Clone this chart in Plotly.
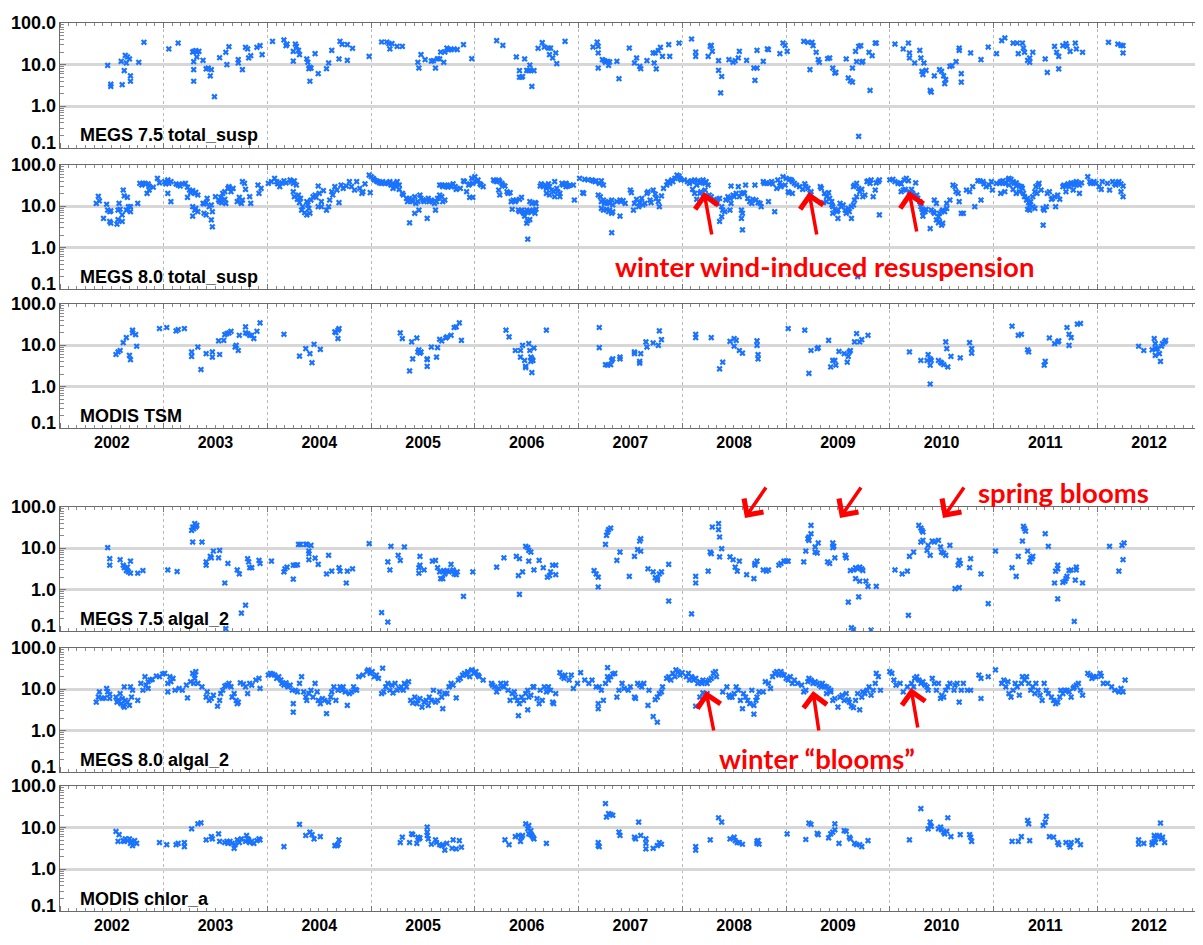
import math
import datetime as dt
import plotly.graph_objects as go

# ---------------- data: (decimal year, value) ----------------
megs75_total_susp = [
    (2002.46, 9.6), (2002.49, 3.4), (2002.49, 3.0), (2002.59, 12.0), (2002.60, 3.3), (2002.62, 7.2), (2002.63, 16.7),
    (2002.64, 11.0), (2002.65, 15.3), (2002.67, 13.7), (2002.68, 5.4), (2002.68, 4.0), (2002.76, 11.4), (2002.81, 34.4),
    (2003.05, 23.8), (2003.14, 33.1), (2003.28, 20.1), (2003.29, 20.9), (2003.31, 21.7), (2003.32, 20.1), (2003.34, 20.9),
    (2003.29, 11.8), (2003.29, 7.6), (2003.29, 4.0), (2003.32, 15.3), (2003.38, 12.7), (2003.41, 7.9), (2003.43, 8.3),
    (2003.46, 7.6), (2003.45, 5.4), (2003.49, 1.7), (2003.54, 14.7), (2003.60, 19.8), (2003.61, 10.0), (2003.63, 27.0),
    (2003.72, 13.2), (2003.72, 11.0), (2003.76, 7.6), (2003.79, 26.1), (2003.81, 23.8), (2003.82, 14.5), (2003.84, 16.4),
    (2003.90, 26.1), (2003.93, 28.6), (2003.95, 17.4),
    (2004.05, 36.3), (2004.16, 39.1), (2004.18, 28.6), (2004.19, 31.3), (2004.25, 20.9), (2004.27, 31.3), (2004.28, 27.5),
    (2004.30, 22.1), (2004.25, 12.2), (2004.31, 17.4), (2004.38, 13.7), (2004.39, 11.4), (2004.40, 8.0), (2004.41, 8.6),
    (2004.42, 8.3), (2004.41, 4.0), (2004.46, 18.4), (2004.49, 6.1), (2004.57, 8.0), (2004.59, 11.0), (2004.62, 22.1),
    (2004.69, 13.7), (2004.70, 36.3), (2004.72, 30.8), (2004.77, 12.7), (2004.77, 30.2), (2004.82, 24.7), (2004.98, 15.8),
    (2005.10, 35.0), (2005.15, 35.0), (2005.17, 31.9), (2005.18, 23.8), (2005.20, 31.9), (2005.25, 27.5), (2005.30, 27.5),
    (2005.45, 11.4), (2005.46, 8.3), (2005.48, 17.4), (2005.52, 13.2), (2005.58, 12.2), (2005.60, 12.5), (2005.62, 8.3),
    (2005.64, 13.9), (2005.66, 13.7), (2005.67, 20.1), (2005.70, 11.4), (2005.71, 20.1), (2005.73, 25.1), (2005.75, 22.9),
    (2005.77, 22.9), (2005.80, 23.8), (2005.83, 22.9), (2005.89, 30.2), (2005.97, 13.9),
    (2006.21, 37.7), (2006.27, 29.1), (2006.40, 15.3), (2006.43, 7.2), (2006.43, 5.0), (2006.45, 5.0), (2006.46, 5.2),
    (2006.48, 13.7), (2006.50, 7.3), (2006.52, 7.2), (2006.53, 9.8), (2006.54, 7.3), (2006.55, 3.0), (2006.57, 7.2),
    (2006.61, 24.7), (2006.65, 33.7), (2006.67, 26.5), (2006.71, 25.1), (2006.72, 17.4), (2006.73, 25.1), (2006.75, 14.5),
    (2006.78, 19.1), (2006.79, 10.6), (2006.87, 36.3),
    (2007.14, 26.5), (2007.18, 35.0), (2007.19, 27.5), (2007.19, 19.1), (2007.19, 8.3), (2007.23, 13.2), (2007.25, 12.5),
    (2007.26, 11.4), (2007.28, 12.0), (2007.30, 11.6), (2007.29, 9.6), (2007.37, 12.0), (2007.39, 4.6), (2007.49, 25.1),
    (2007.54, 11.0), (2007.56, 14.5), (2007.59, 9.1), (2007.60, 8.0), (2007.66, 12.5), (2007.72, 19.1), (2007.73, 11.0),
    (2007.74, 19.1), (2007.75, 7.9), (2007.77, 21.7), (2007.79, 26.1), (2007.81, 15.8), (2007.87, 30.2), (2007.88, 15.8),
    (2007.97, 33.1),
    (2008.09, 41.3), (2008.13, 20.1), (2008.13, 15.8), (2008.25, 15.8), (2008.27, 27.5), (2008.28, 29.1), (2008.29, 20.9),
    (2008.35, 7.3), (2008.35, 12.5), (2008.37, 2.1), (2008.38, 5.2), (2008.45, 13.2), (2008.49, 11.4), (2008.51, 12.5),
    (2008.54, 14.5), (2008.55, 20.9), (2008.62, 12.7), (2008.69, 8.3), (2008.70, 4.2), (2008.72, 22.1), (2008.72, 8.3),
    (2008.78, 12.0), (2008.82, 23.8), (2008.83, 22.9), (2008.94, 18.4), (2008.97, 33.1), (2008.99, 29.1), (2009.01, 20.9),
    (2009.17, 36.3), (2009.21, 34.4), (2009.25, 34.4), (2009.26, 28.6), (2009.23, 7.6), (2009.29, 19.8), (2009.31, 13.2),
    (2009.32, 11.4), (2009.40, 13.9), (2009.42, 14.5), (2009.45, 8.3), (2009.47, 6.3), (2009.48, 6.5), (2009.58, 13.7),
    (2009.60, 4.8), (2009.62, 4.1), (2009.64, 3.8), (2009.64, 8.3), (2009.67, 20.9), (2009.68, 11.8), (2009.70, 27.5),
    (2009.72, 28.6), (2009.73, 11.4), (2009.74, 12.0), (2009.70, 0.19), (2009.80, 19.8), (2009.83, 16.4), (2009.81, 2.4),
    (2009.86, 33.1), (2009.87, 33.1),
    (2010.05, 31.3), (2010.13, 23.8), (2010.18, 33.1), (2010.19, 19.1), (2010.19, 14.5), (2010.24, 11.0), (2010.29, 22.1),
    (2010.30, 14.5), (2010.33, 11.0), (2010.31, 6.9), (2010.32, 5.8), (2010.35, 7.3), (2010.39, 2.4), (2010.40, 2.2),
    (2010.43, 5.4), (2010.48, 7.6), (2010.50, 6.9), (2010.52, 5.4), (2010.53, 3.5), (2010.54, 4.4), (2010.58, 9.1),
    (2010.60, 9.5), (2010.64, 11.8), (2010.67, 25.1), (2010.67, 22.1), (2010.69, 6.1), (2010.69, 3.8), (2010.78, 19.1),
    (2010.88, 13.2), (2010.95, 26.5),
    (2011.03, 18.4), (2011.08, 37.7), (2011.11, 43.7), (2011.19, 33.1), (2011.23, 33.1), (2011.28, 33.1), (2011.24, 18.4),
    (2011.29, 25.1), (2011.30, 19.8), (2011.33, 12.7), (2011.35, 11.4), (2011.35, 14.5), (2011.38, 19.8), (2011.50, 13.7),
    (2011.52, 6.5), (2011.59, 27.5), (2011.61, 19.8), (2011.63, 15.8), (2011.63, 7.9), (2011.67, 28.6), (2011.70, 31.9),
    (2011.71, 27.5), (2011.74, 20.9), (2011.79, 33.1), (2011.80, 23.8), (2011.86, 19.8),
    (2012.11, 34.4), (2012.20, 31.3), (2012.23, 29.1), (2012.25, 28.6), (2012.25, 19.1),
]

megs80_total_susp = [
    (2002.35, 11.8), (2002.37, 17.5), (2002.38, 13.5), (2002.42, 5.1), (2002.45, 11.2), (2002.46, 8.1), (2002.48, 7.4),
    (2002.48, 4.3), (2002.49, 3.9), (2002.49, 7.8), (2002.55, 3.7), (2002.56, 4.8), (2002.56, 8.1), (2002.57, 11.8),
    (2002.58, 8.5), (2002.60, 4.3), (2002.60, 6.2), (2002.61, 24.8), (2002.62, 17.8), (2002.65, 16.5), (2002.64, 8.1),
    (2002.66, 9.8), (2002.68, 9.8), (2002.68, 7.4), (2002.75, 11.8), (2002.77, 36.0), (2002.79, 32.8), (2002.80, 36.0),
    (2002.82, 36.0), (2002.85, 35.0), (2002.86, 31.0), (2002.84, 20.6), (2002.86, 24.8), (2002.90, 29.0), (2002.94, 47.6),
    (2002.96, 37.0),
    (2003.01, 39.5), (2003.02, 35.0), (2003.04, 43.4), (2003.05, 36.0), (2003.07, 39.5), (2003.04, 20.6), (2003.07, 13.0),
    (2003.12, 35.0), (2003.14, 32.8), (2003.16, 31.0), (2003.18, 35.0), (2003.21, 36.0), (2003.23, 29.0), (2003.23, 16.5),
    (2003.25, 24.8), (2003.26, 21.4), (2003.28, 24.0), (2003.30, 20.6), (2003.31, 21.8), (2003.33, 18.8), (2003.28, 9.8),
    (2003.30, 8.1), (2003.31, 8.9), (2003.33, 7.4), (2003.28, 5.8), (2003.38, 11.8), (2003.39, 11.4), (2003.41, 12.3),
    (2003.42, 15.6), (2003.39, 6.8), (2003.41, 6.2), (2003.44, 9.8), (2003.46, 10.8), (2003.47, 7.4), (2003.46, 4.7),
    (2003.47, 3.2), (2003.50, 17.1), (2003.53, 14.2), (2003.55, 16.5), (2003.57, 20.6), (2003.59, 22.6), (2003.62, 27.2),
    (2003.63, 29.9), (2003.65, 22.6), (2003.67, 27.2), (2003.54, 13.0), (2003.56, 12.3), (2003.59, 14.8), (2003.60, 11.8),
    (2003.71, 13.0), (2003.73, 16.5), (2003.75, 11.8), (2003.76, 14.2), (2003.76, 39.5), (2003.78, 36.0), (2003.79, 25.8),
    (2003.83, 17.1), (2003.84, 11.8), (2003.91, 32.8), (2003.92, 20.6), (2003.94, 27.2),
    (2004.01, 36.0), (2004.04, 39.5), (2004.07, 47.6), (2004.09, 39.5), (2004.10, 35.0), (2004.12, 29.9), (2004.14, 37.0),
    (2004.16, 41.5), (2004.18, 37.0), (2004.22, 43.4), (2004.23, 39.5), (2004.25, 36.0), (2004.26, 41.5), (2004.28, 32.8),
    (2004.25, 22.6), (2004.26, 17.1), (2004.29, 14.8), (2004.30, 18.8), (2004.31, 12.3), (2004.32, 15.6), (2004.33, 8.1),
    (2004.34, 9.8), (2004.36, 7.0), (2004.38, 6.2), (2004.40, 8.9), (2004.41, 6.8), (2004.38, 13.0), (2004.39, 10.8),
    (2004.42, 14.2), (2004.44, 17.1), (2004.46, 18.8), (2004.47, 16.5), (2004.49, 31.0), (2004.50, 20.6), (2004.52, 13.0),
    (2004.54, 24.0), (2004.49, 9.8), (2004.52, 9.8), (2004.57, 8.1), (2004.59, 9.8), (2004.60, 14.2), (2004.62, 22.6),
    (2004.63, 18.8), (2004.65, 29.9), (2004.67, 24.8), (2004.69, 12.3), (2004.71, 32.8), (2004.73, 27.2), (2004.76, 31.0),
    (2004.79, 39.5), (2004.81, 29.9), (2004.84, 24.8), (2004.86, 39.5), (2004.89, 27.2), (2004.91, 20.6), (2004.92, 22.6),
    (2004.94, 35.0), (2004.99, 21.4),
    (2004.98, 57.0), (2005.00, 52.0), (2005.02, 47.6), (2005.03, 43.4), (2005.05, 41.5), (2005.06, 39.5), (2005.08, 37.0),
    (2005.10, 36.0), (2005.11, 39.5), (2005.13, 36.0), (2005.14, 37.0), (2005.16, 36.0), (2005.18, 39.5), (2005.19, 32.8),
    (2005.21, 36.0), (2005.23, 32.8), (2005.25, 39.5), (2005.27, 32.8), (2005.21, 27.2), (2005.24, 29.9), (2005.27, 25.8),
    (2005.30, 20.6), (2005.31, 18.8), (2005.34, 15.6), (2005.35, 13.0), (2005.37, 15.6), (2005.39, 14.2), (2005.40, 13.0),
    (2005.42, 17.1), (2005.43, 11.8), (2005.45, 13.0), (2005.47, 18.8), (2005.48, 15.6), (2005.50, 14.2), (2005.51, 13.0),
    (2005.53, 14.2), (2005.55, 15.6), (2005.56, 13.0), (2005.58, 14.2), (2005.59, 13.0), (2005.61, 11.8), (2005.63, 13.0),
    (2005.64, 15.6), (2005.66, 18.8), (2005.37, 4.0), (2005.42, 6.8), (2005.46, 8.1), (2005.54, 5.1), (2005.62, 8.1),
    (2005.66, 32.8), (2005.68, 32.8), (2005.69, 29.9), (2005.71, 32.8), (2005.73, 31.0), (2005.74, 29.0), (2005.76, 32.8),
    (2005.77, 29.9), (2005.79, 35.0), (2005.81, 29.9), (2005.82, 25.8), (2005.68, 17.1), (2005.69, 13.0), (2005.71, 14.2),
    (2005.86, 27.2), (2005.89, 41.5), (2005.90, 39.5), (2005.92, 22.6), (2005.94, 32.8), (2005.95, 35.0), (2005.97, 47.6),
    (2005.98, 36.0), (2005.95, 16.5), (2005.98, 16.5),
    (2006.00, 52.0), (2006.02, 39.5), (2006.03, 43.4), (2006.05, 35.0), (2006.06, 32.8), (2006.08, 29.9), (2006.18, 43.4),
    (2006.19, 41.5), (2006.21, 39.5), (2006.23, 43.4), (2006.24, 39.5), (2006.26, 36.0), (2006.27, 32.8), (2006.29, 31.0),
    (2006.23, 24.8), (2006.24, 18.8), (2006.31, 22.6), (2006.32, 20.6), (2006.34, 21.4), (2006.35, 13.0), (2006.37, 14.2),
    (2006.39, 13.0), (2006.40, 14.2), (2006.43, 14.8), (2006.45, 16.5), (2006.36, 8.5), (2006.42, 8.1), (2006.43, 7.4),
    (2006.45, 8.1), (2006.47, 6.8), (2006.48, 7.4), (2006.50, 8.1), (2006.51, 7.0), (2006.53, 7.8), (2006.55, 7.4),
    (2006.56, 8.1), (2006.58, 6.8), (2006.59, 8.5), (2006.48, 5.8), (2006.50, 3.9), (2006.51, 4.5), (2006.53, 4.8),
    (2006.51, 1.6), (2006.53, 13.0), (2006.55, 11.8), (2006.58, 12.3), (2006.59, 11.8), (2006.63, 31.0), (2006.64, 35.0),
    (2006.66, 29.9), (2006.68, 32.8), (2006.69, 27.2), (2006.71, 35.0), (2006.72, 29.9), (2006.74, 24.8), (2006.76, 22.6),
    (2006.77, 39.5), (2006.79, 27.2), (2006.80, 22.6), (2006.82, 20.6), (2006.69, 20.6), (2006.72, 18.8), (2006.77, 17.1),
    (2006.82, 17.1), (2006.84, 36.0), (2006.85, 32.8), (2006.87, 35.0), (2006.88, 36.0), (2006.92, 32.8), (2006.95, 32.8),
    (2006.88, 29.9), (2006.90, 31.0), (2006.96, 14.2),
    (2007.01, 47.6), (2007.06, 45.0), (2007.09, 43.4), (2007.13, 43.4), (2007.14, 41.5), (2007.16, 39.5), (2007.17, 41.5),
    (2007.20, 36.0), (2007.22, 41.5), (2007.24, 32.8), (2007.04, 21.4), (2007.05, 20.6), (2007.19, 18.8), (2007.21, 17.1),
    (2007.22, 13.0), (2007.24, 14.2), (2007.25, 11.8), (2007.27, 12.3), (2007.29, 13.0), (2007.30, 11.8), (2007.32, 14.2),
    (2007.33, 10.8), (2007.37, 13.0), (2007.22, 8.9), (2007.24, 8.1), (2007.27, 8.5), (2007.29, 7.4), (2007.30, 8.1),
    (2007.32, 6.8), (2007.33, 7.4), (2007.40, 5.8), (2007.32, 2.3), (2007.40, 14.2), (2007.41, 13.0), (2007.43, 13.7),
    (2007.45, 11.8), (2007.50, 24.8), (2007.51, 21.4), (2007.53, 8.1), (2007.54, 11.8), (2007.56, 14.8), (2007.58, 9.8),
    (2007.59, 12.3), (2007.61, 15.6), (2007.62, 10.8), (2007.64, 11.8), (2007.66, 20.6), (2007.67, 22.6), (2007.69, 14.2),
    (2007.70, 12.3), (2007.72, 24.8), (2007.74, 19.8), (2007.75, 15.6), (2007.77, 13.0), (2007.78, 9.8), (2007.80, 17.8),
    (2007.82, 27.2), (2007.85, 32.8), (2007.86, 39.5), (2007.88, 36.0), (2007.90, 43.4), (2007.91, 39.5), (2007.93, 47.6),
    (2007.95, 57.0), (2007.97, 54.0), (2007.98, 47.6), (2007.99, 43.4),
    (2008.02, 43.4), (2008.05, 39.5), (2008.07, 36.0), (2008.09, 41.5), (2008.10, 39.5), (2008.12, 43.4), (2008.14, 32.8),
    (2008.15, 41.5), (2008.17, 37.0), (2008.18, 39.5), (2008.20, 43.4), (2008.22, 36.0), (2008.23, 39.5), (2008.25, 32.8),
    (2008.10, 25.8), (2008.12, 20.6), (2008.14, 14.8), (2008.17, 20.6), (2008.18, 22.6), (2008.22, 24.8), (2008.26, 18.8),
    (2008.28, 17.1), (2008.30, 14.2), (2008.31, 13.0), (2008.33, 11.8), (2008.34, 14.8), (2008.36, 15.6), (2008.38, 9.8),
    (2008.39, 8.1), (2008.41, 7.4), (2008.38, 5.6), (2008.36, 4.3), (2008.42, 14.2), (2008.44, 17.1), (2008.46, 15.6),
    (2008.47, 31.0), (2008.49, 18.8), (2008.50, 17.1), (2008.52, 20.6), (2008.54, 29.9), (2008.55, 17.1), (2008.57, 20.6),
    (2008.59, 21.4), (2008.60, 20.6), (2008.61, 32.8), (2008.46, 8.1), (2008.47, 11.8), (2008.57, 8.1), (2008.58, 6.8),
    (2008.57, 5.1), (2008.58, 2.7), (2008.63, 15.6), (2008.65, 13.0), (2008.67, 11.8), (2008.68, 14.8), (2008.70, 32.8),
    (2008.71, 14.2), (2008.73, 12.3), (2008.75, 11.8), (2008.76, 9.8), (2008.78, 39.5), (2008.79, 36.0), (2008.81, 37.0),
    (2008.83, 13.0), (2008.84, 36.0), (2008.86, 39.5), (2008.87, 35.0), (2008.89, 7.4), (2008.91, 27.2), (2008.92, 43.4),
    (2008.94, 37.0), (2008.95, 29.9), (2008.97, 52.0), (2008.99, 32.8),
    (2009.00, 47.6), (2009.03, 45.0), (2009.05, 43.4), (2009.06, 39.5), (2009.08, 36.0), (2009.10, 32.8), (2009.13, 29.9),
    (2009.16, 25.8), (2009.18, 35.0), (2009.19, 29.9), (2009.21, 27.2), (2009.23, 20.6), (2009.24, 22.6), (2009.02, 22.6),
    (2009.03, 21.4), (2009.06, 20.6), (2009.33, 29.9), (2009.34, 27.2), (2009.37, 20.6), (2009.39, 17.1), (2009.41, 21.4),
    (2009.42, 15.6), (2009.44, 13.0), (2009.36, 12.3), (2009.39, 13.0), (2009.44, 10.8), (2009.45, 9.8), (2009.47, 8.5),
    (2009.49, 7.4), (2009.50, 8.1), (2009.52, 11.8), (2009.53, 9.8), (2009.55, 10.8), (2009.57, 8.1), (2009.50, 5.1),
    (2009.63, 5.1), (2009.45, 6.8), (2009.58, 6.8), (2009.60, 8.9), (2009.61, 7.4), (2009.63, 9.8), (2009.65, 10.8),
    (2009.66, 14.2), (2009.68, 17.1), (2009.65, 29.9), (2009.66, 32.8), (2009.68, 36.0), (2009.70, 27.2), (2009.71, 22.6),
    (2009.73, 25.8), (2009.74, 17.1), (2009.76, 18.8), (2009.78, 39.5), (2009.79, 41.5), (2009.81, 36.0), (2009.82, 43.4),
    (2009.84, 17.1), (2009.86, 24.8), (2009.87, 37.0), (2009.89, 39.5), (2009.90, 43.4), (2009.90, 6.2), (2009.69, 0.2),
    (2010.00, 43.4), (2010.03, 45.0), (2010.05, 39.5), (2010.08, 36.0), (2010.10, 37.0), (2010.11, 35.0), (2010.14, 43.4),
    (2010.16, 47.6), (2010.18, 41.5), (2010.25, 37.0), (2010.11, 22.6), (2010.13, 24.8), (2010.15, 25.8), (2010.19, 22.6),
    (2010.21, 25.8), (2010.22, 20.6), (2010.24, 17.1), (2010.26, 18.8), (2010.27, 15.6), (2010.29, 13.0), (2010.30, 11.8),
    (2010.30, 9.8), (2010.31, 8.5), (2010.32, 7.4), (2010.32, 5.8), (2010.34, 7.4), (2010.35, 8.5), (2010.39, 2.9),
    (2010.40, 8.1), (2010.42, 7.4), (2010.43, 6.8), (2010.45, 4.7), (2010.47, 5.6), (2010.48, 6.8), (2010.50, 7.4),
    (2010.51, 8.1), (2010.53, 7.4), (2010.55, 8.9), (2010.47, 4.0), (2010.48, 4.3), (2010.50, 3.5), (2010.43, 14.2),
    (2010.45, 11.8), (2010.51, 3.9), (2010.55, 11.8), (2010.58, 14.2), (2010.61, 32.8), (2010.63, 29.9), (2010.64, 22.6),
    (2010.66, 20.6), (2010.67, 13.0), (2010.69, 6.8), (2010.71, 6.8), (2010.74, 24.8), (2010.77, 22.6), (2010.80, 29.9),
    (2010.82, 9.8), (2010.85, 41.5), (2010.87, 41.5), (2010.90, 39.5), (2010.91, 35.0), (2010.93, 29.9), (2010.96, 32.8),
    (2010.98, 39.5), (2010.88, 14.2),
    (2010.99, 24.8), (2011.03, 36.0), (2011.06, 36.0), (2011.07, 39.5), (2011.09, 41.5), (2011.11, 37.0), (2011.12, 36.0),
    (2011.14, 43.4), (2011.15, 47.6), (2011.17, 45.0), (2011.19, 39.5), (2011.20, 36.0), (2011.22, 37.0), (2011.23, 32.8),
    (2011.25, 31.0), (2011.27, 29.9), (2011.28, 27.2), (2011.07, 20.6), (2011.11, 22.6), (2011.15, 32.8), (2011.19, 25.8),
    (2011.22, 20.6), (2011.25, 22.6), (2011.29, 20.6), (2011.30, 17.1), (2011.32, 14.2), (2011.33, 15.6), (2011.34, 12.3),
    (2011.35, 10.8), (2011.36, 13.0), (2011.38, 17.1), (2011.40, 22.6), (2011.41, 29.9), (2011.42, 20.6), (2011.43, 32.8),
    (2011.44, 36.0), (2011.33, 8.5), (2011.35, 8.1), (2011.38, 9.8), (2011.40, 8.9), (2011.46, 24.8), (2011.48, 3.5),
    (2011.48, 8.9), (2011.49, 8.1), (2011.51, 9.8), (2011.52, 20.6), (2011.54, 22.6), (2011.56, 14.8), (2011.57, 15.6),
    (2011.59, 17.1), (2011.60, 9.8), (2011.62, 18.8), (2011.64, 14.8), (2011.67, 29.9), (2011.68, 32.8), (2011.70, 31.0),
    (2011.72, 35.0), (2011.73, 29.9), (2011.75, 37.0), (2011.77, 36.0), (2011.78, 32.8), (2011.80, 39.5), (2011.81, 35.0),
    (2011.83, 32.8), (2011.85, 37.0), (2011.70, 22.6), (2011.77, 24.8), (2011.83, 20.6), (2011.91, 52.0), (2011.93, 39.5),
    (2011.94, 36.0), (2011.96, 37.0), (2011.97, 39.5), (2011.99, 36.0),
    (2012.02, 29.9), (2012.04, 25.8), (2012.05, 39.5), (2012.10, 36.0), (2012.12, 24.8), (2012.15, 39.5), (2012.17, 35.0),
    (2012.18, 32.8), (2012.20, 37.0), (2012.21, 39.5), (2012.23, 35.0), (2012.25, 31.0), (2012.23, 22.6), (2012.25, 17.1),
]

modis_tsm = [
    (2002.54, 6.0), (2002.56, 6.9), (2002.58, 7.5), (2002.61, 11.6), (2002.64, 15.4), (2002.67, 5.7), (2002.68, 4.5),
    (2002.70, 23.2), (2002.70, 20.0), (2002.73, 18.2), (2002.74, 9.5), (2002.96, 25.5),
    (2003.03, 27.0), (2003.12, 22.4), (2003.14, 24.1), (2003.20, 25.5), (2003.27, 6.9), (2003.27, 5.4), (2003.33, 9.1),
    (2003.36, 2.6), (2003.41, 6.3), (2003.47, 6.9), (2003.47, 5.2), (2003.53, 12.8), (2003.54, 6.0), (2003.58, 13.2),
    (2003.59, 18.2), (2003.61, 19.3), (2003.63, 20.0), (2003.65, 21.9), (2003.69, 9.1), (2003.70, 10.0), (2003.72, 7.5),
    (2003.73, 17.5), (2003.79, 28.0), (2003.79, 20.0), (2003.81, 19.3), (2003.83, 17.5), (2003.85, 17.5), (2003.87, 14.6),
    (2003.90, 21.9), (2003.93, 35.0),
    (2004.16, 18.5), (2004.31, 5.5), (2004.37, 8.3), (2004.41, 6.3), (2004.43, 3.8), (2004.45, 10.6), (2004.51, 8.0),
    (2004.65, 21.1), (2004.66, 20.4), (2004.68, 23.2), (2004.69, 25.5), (2004.68, 14.6),
    (2005.28, 20.0), (2005.30, 14.6), (2005.37, 2.4), (2005.39, 12.1), (2005.40, 4.7), (2005.44, 15.1), (2005.45, 6.9),
    (2005.46, 7.8), (2005.47, 6.5), (2005.48, 6.9), (2005.54, 4.7), (2005.54, 4.5), (2005.54, 3.1), (2005.58, 9.1),
    (2005.63, 5.2), (2005.64, 8.8), (2005.66, 14.0), (2005.68, 12.8), (2005.72, 15.1), (2005.73, 16.0), (2005.77, 17.5),
    (2005.80, 27.0), (2005.82, 28.0), (2005.85, 35.0), (2005.87, 13.2),
    (2006.30, 23.2), (2006.33, 16.0), (2006.39, 7.5), (2006.44, 7.5), (2006.46, 10.0), (2006.44, 5.2), (2006.48, 4.3),
    (2006.49, 3.1), (2006.49, 2.9), (2006.52, 11.0), (2006.53, 7.5), (2006.54, 5.2), (2006.54, 4.1), (2006.55, 4.7),
    (2006.56, 4.3), (2006.55, 2.2), (2006.57, 8.6), (2006.69, 23.2),
    (2007.20, 27.0), (2007.20, 8.8), (2007.26, 3.4), (2007.28, 3.3), (2007.31, 3.4), (2007.32, 4.3), (2007.33, 4.7),
    (2007.40, 5.2), (2007.40, 4.7), (2007.54, 6.9), (2007.54, 6.3), (2007.59, 4.1), (2007.59, 3.7), (2007.60, 6.3),
    (2007.65, 12.1), (2007.66, 9.1), (2007.72, 11.4), (2007.77, 10.0), (2007.78, 22.4), (2007.80, 13.7),
    (2008.13, 18.5), (2008.13, 15.4), (2008.28, 15.4), (2008.36, 2.7), (2008.39, 3.9), (2008.46, 12.5), (2008.50, 14.6),
    (2008.52, 13.2), (2008.50, 9.5), (2008.55, 7.5), (2008.58, 6.5), (2008.72, 12.8), (2008.72, 10.0), (2008.73, 6.0),
    (2008.73, 4.7),
    (2009.02, 25.5), (2009.18, 23.2), (2009.24, 7.5), (2009.30, 8.3), (2009.31, 8.8), (2009.22, 2.1), (2009.41, 13.2),
    (2009.43, 3.0), (2009.45, 4.3), (2009.47, 4.3), (2009.48, 3.3), (2009.51, 7.1), (2009.56, 6.3), (2009.59, 3.9),
    (2009.60, 5.4), (2009.61, 6.9), (2009.62, 7.5), (2009.66, 12.1), (2009.68, 19.3), (2009.71, 12.1), (2009.73, 13.7),
    (2009.79, 17.5),
    (2010.19, 6.9), (2010.30, 4.3), (2010.36, 4.3), (2010.37, 6.0), (2010.39, 4.7), (2010.39, 3.3), (2010.40, 4.3),
    (2010.39, 1.16), (2010.47, 4.3), (2010.49, 3.9), (2010.50, 3.7), (2010.52, 3.4), (2010.56, 3.0), (2010.54, 12.1),
    (2010.55, 8.3), (2010.59, 5.4), (2010.68, 5.0), (2010.77, 11.6), (2010.79, 8.3), (2010.79, 6.5),
    (2011.18, 29.0), (2011.24, 17.5), (2011.27, 18.5), (2011.33, 7.8), (2011.34, 6.9), (2011.49, 3.3), (2011.50, 4.1),
    (2011.54, 15.1), (2011.59, 11.0), (2011.62, 12.1), (2011.63, 12.8), (2011.71, 27.0), (2011.73, 18.5), (2011.75, 15.4),
    (2011.73, 10.0), (2011.81, 32.5), (2011.84, 33.8),
    (2012.40, 9.5), (2012.45, 7.5), (2012.53, 7.8), (2012.55, 14.6), (2012.56, 11.0), (2012.56, 8.3), (2012.56, 5.7),
    (2012.58, 8.3), (2012.60, 6.3), (2012.61, 4.1), (2012.62, 9.5), (2012.63, 11.0), (2012.65, 12.1), (2012.66, 13.2),
]

megs75_algal_2 = [
    (2002.46, 10.4), (2002.48, 5.6), (2002.48, 3.9), (2002.58, 5.3), (2002.61, 3.9), (2002.62, 3.4), (2002.64, 2.9),
    (2002.66, 2.7), (2002.65, 3.5), (2002.68, 4.9), (2002.68, 2.5), (2002.75, 2.5), (2002.80, 2.9),
    (2003.04, 3.0), (2003.13, 2.75), (2003.27, 27.2), (2003.28, 32.8), (2003.29, 29.9), (2003.30, 39.5), (2003.31, 32.8),
    (2003.32, 36.0), (2003.28, 14.2), (2003.37, 14.2), (2003.41, 4.7), (2003.41, 3.9), (2003.45, 6.4), (2003.46, 5.9),
    (2003.48, 8.6), (2003.54, 8.9), (2003.53, 5.9), (2003.59, 1.45), (2003.62, 4.3), (2003.60, 0.114), (2003.71, 3.0),
    (2003.73, 2.4), (2003.75, 0.27), (2003.79, 0.42), (2003.81, 5.6), (2003.82, 4.7), (2003.83, 3.4), (2003.85, 3.4),
    (2003.92, 5.1), (2003.93, 4.3),
    (2004.04, 4.9), (2004.16, 2.7), (2004.17, 3.2), (2004.19, 3.5), (2004.25, 1.8), (2004.25, 3.9), (2004.27, 3.9),
    (2004.29, 4.0), (2004.30, 12.5), (2004.32, 12.5), (2004.37, 12.5), (2004.38, 12.5), (2004.42, 11.8), (2004.40, 8.6),
    (2004.40, 7.4), (2004.40, 5.3), (2004.46, 5.8), (2004.49, 4.1), (2004.57, 2.4), (2004.59, 6.8), (2004.62, 2.8),
    (2004.69, 3.4), (2004.70, 2.8), (2004.76, 1.45), (2004.77, 2.8), (2004.82, 3.2), (2004.98, 13.0),
    (2005.10, 0.28), (2005.16, 0.165), (2005.16, 4.7), (2005.18, 3.0), (2005.19, 11.2), (2005.26, 6.8), (2005.28, 5.1),
    (2005.32, 10.8), (2005.47, 6.4), (2005.47, 3.9), (2005.46, 3.4), (2005.46, 2.5), (2005.51, 3.0), (2005.59, 4.9),
    (2005.62, 5.1), (2005.64, 3.4), (2005.66, 2.7), (2005.67, 1.85), (2005.69, 1.85), (2005.70, 2.9), (2005.71, 2.4),
    (2005.73, 2.9), (2005.75, 2.7), (2005.77, 4.1), (2005.79, 3.0), (2005.80, 2.4), (2005.82, 2.3), (2005.83, 2.7),
    (2005.89, 0.69), (2005.98, 2.7),
    (2006.21, 3.5), (2006.28, 5.9), (2006.40, 6.4), (2006.43, 5.6), (2006.42, 2.2), (2006.46, 2.7), (2006.43, 0.77),
    (2006.49, 11.2), (2006.51, 10.4), (2006.52, 8.9), (2006.54, 8.1), (2006.52, 4.9), (2006.57, 3.0), (2006.62, 5.1),
    (2006.66, 3.4), (2006.70, 2.0), (2006.72, 2.2), (2006.73, 2.7), (2006.75, 3.9), (2006.78, 3.9), (2006.78, 2.3),
    (2007.15, 2.9), (2007.17, 2.4), (2007.19, 2.0), (2007.19, 1.16), (2007.26, 12.5), (2007.27, 20.6), (2007.28, 24.8),
    (2007.29, 28.3), (2007.31, 31.0), (2007.37, 5.1), (2007.40, 8.1), (2007.49, 2.1), (2007.54, 6.4), (2007.57, 9.3),
    (2007.60, 8.5), (2007.60, 17.1), (2007.59, 15.0), (2007.67, 3.2), (2007.72, 2.7), (2007.74, 1.95), (2007.76, 1.85),
    (2007.78, 2.4), (2007.80, 2.7), (2007.76, 1.7), (2007.87, 4.1), (2007.87, 0.53),
    (2008.09, 0.26), (2008.13, 2.1), (2008.13, 1.45), (2008.25, 2.8), (2008.28, 7.4), (2008.27, 8.1), (2008.29, 32.8),
    (2008.35, 39.5), (2008.35, 28.3), (2008.36, 18.8), (2008.38, 9.8), (2008.36, 6.2), (2008.46, 6.2), (2008.49, 5.3),
    (2008.51, 3.5), (2008.53, 2.8), (2008.55, 4.9), (2008.62, 2.3), (2008.69, 1.85), (2008.70, 3.9), (2008.70, 4.3),
    (2008.72, 4.9), (2008.78, 3.0), (2008.81, 2.8), (2008.83, 3.0), (2008.93, 3.9), (2008.95, 4.3), (2008.98, 4.9),
    (2009.00, 4.9), (2009.02, 4.9), (2009.17, 4.7), (2009.19, 8.6), (2009.21, 17.1), (2009.22, 18.8), (2009.24, 22.6),
    (2009.24, 36.0), (2009.22, 15.6), (2009.28, 10.8), (2009.31, 13.5), (2009.28, 8.1), (2009.30, 7.7), (2009.40, 4.7),
    (2009.42, 4.3), (2009.45, 10.4), (2009.45, 13.5), (2009.46, 11.2), (2009.47, 5.9), (2009.57, 6.8), (2009.58, 5.9),
    (2009.60, 0.5), (2009.62, 2.9), (2009.65, 3.0), (2009.67, 3.4), (2009.69, 3.2), (2009.71, 3.5), (2009.73, 3.2),
    (2009.74, 2.9), (2009.67, 1.85), (2009.71, 1.6), (2009.77, 1.6), (2009.63, 0.12), (2009.65, 0.108), (2009.70, 0.67),
    (2009.79, 1.2), (2009.82, 0.105), (2009.87, 1.2),
    (2010.05, 3.0), (2010.12, 2.4), (2010.17, 2.8), (2010.18, 0.24), (2010.19, 6.4), (2010.23, 8.1), (2010.28, 36.0),
    (2010.30, 31.0), (2010.31, 27.2), (2010.32, 24.8), (2010.30, 14.2), (2010.32, 15.6), (2010.36, 8.9), (2010.37, 11.8),
    (2010.39, 6.8), (2010.41, 15.0), (2010.43, 14.2), (2010.47, 15.6), (2010.49, 10.8), (2010.50, 8.1), (2010.52, 7.7),
    (2010.54, 6.8), (2010.58, 11.8), (2010.63, 1.06), (2010.67, 1.12), (2010.67, 5.1), (2010.66, 3.9), (2010.68, 4.3),
    (2010.78, 5.6), (2010.77, 3.4), (2010.88, 2.4), (2010.95, 0.46),
    (2011.02, 8.6), (2011.18, 3.4), (2011.22, 2.1), (2011.24, 6.4), (2011.28, 15.0), (2011.29, 34.0), (2011.30, 29.9),
    (2011.31, 26.0), (2011.33, 8.6), (2011.36, 5.9), (2011.37, 5.6), (2011.38, 6.4), (2011.35, 4.7), (2011.50, 22.6),
    (2011.53, 11.2), (2011.59, 1.45), (2011.60, 2.8), (2011.62, 3.2), (2011.62, 3.9), (2011.62, 0.6), (2011.67, 1.5),
    (2011.69, 1.6), (2011.70, 1.85), (2011.71, 2.1), (2011.73, 2.9), (2011.75, 3.0), (2011.78, 0.17), (2011.79, 1.7),
    (2011.80, 3.5), (2011.80, 3.0), (2011.86, 1.45),
    (2012.12, 11.2), (2012.21, 2.8), (2012.24, 11.8), (2012.26, 13.5), (2012.25, 5.3),
]

megs80_algal_2 = [
    (2002.35, 4.9), (2002.37, 6.5), (2002.38, 8.7), (2002.41, 6.0), (2002.43, 6.2), (2002.45, 10.5), (2002.46, 8.7),
    (2002.48, 7.6), (2002.48, 6.0), (2002.54, 6.5), (2002.55, 4.9), (2002.56, 5.4), (2002.58, 7.9), (2002.59, 4.5),
    (2002.60, 6.0), (2002.61, 4.1), (2002.62, 3.7), (2002.63, 5.4), (2002.65, 4.9), (2002.67, 4.1), (2002.69, 6.5),
    (2002.62, 11.5), (2002.68, 11.5), (2002.70, 9.5), (2002.75, 5.4), (2002.78, 13.9), (2002.82, 20.2), (2002.83, 12.6),
    (2002.85, 15.3), (2002.87, 16.8), (2002.89, 17.4), (2002.93, 21.0), (2002.96, 20.2), (2002.99, 23.5), (2002.80, 9.5),
    (2002.85, 10.5),
    (2003.01, 24.4), (2003.04, 13.9), (2003.06, 20.2), (2003.07, 15.3), (2003.09, 18.4), (2003.04, 8.7), (2003.11, 9.5),
    (2003.15, 10.5), (2003.18, 9.5), (2003.23, 6.2), (2003.22, 12.6), (2003.26, 15.3), (2003.28, 24.4), (2003.30, 22.2),
    (2003.30, 18.4), (2003.31, 26.8), (2003.29, 13.9), (2003.33, 13.9), (2003.37, 11.5), (2003.41, 6.5), (2003.42, 8.7),
    (2003.44, 5.4), (2003.46, 6.0), (2003.48, 7.2), (2003.52, 3.9), (2003.54, 5.4), (2003.55, 7.9), (2003.57, 9.5),
    (2003.59, 12.0), (2003.61, 12.6), (2003.63, 13.9), (2003.65, 11.5), (2003.66, 6.5), (2003.68, 7.9), (2003.70, 5.4),
    (2003.71, 4.5), (2003.72, 4.9), (2003.74, 14.4), (2003.77, 13.4), (2003.79, 11.5), (2003.81, 7.9), (2003.83, 13.9),
    (2003.85, 12.6), (2003.89, 16.8), (2003.92, 18.4), (2003.93, 10.5),
    (2004.01, 22.2), (2004.03, 24.4), (2004.05, 23.5), (2004.07, 22.2), (2004.09, 18.4), (2004.11, 20.2), (2004.13, 16.8),
    (2004.14, 13.9), (2004.16, 12.6), (2004.18, 14.4), (2004.20, 11.5), (2004.22, 12.6), (2004.24, 9.5), (2004.25, 4.5),
    (2004.25, 2.8), (2004.27, 9.5), (2004.29, 8.7), (2004.31, 13.9), (2004.33, 20.2), (2004.35, 8.7), (2004.37, 6.5),
    (2004.38, 5.4), (2004.40, 7.9), (2004.42, 9.5), (2004.44, 6.5), (2004.46, 13.9), (2004.48, 8.7), (2004.49, 5.4),
    (2004.51, 4.5), (2004.53, 6.0), (2004.55, 5.4), (2004.57, 2.6), (2004.59, 4.9), (2004.61, 6.5), (2004.62, 8.7),
    (2004.64, 11.5), (2004.66, 5.4), (2004.68, 9.5), (2004.70, 11.5), (2004.72, 9.5), (2004.73, 11.5), (2004.75, 8.7),
    (2004.77, 4.1), (2004.79, 7.9), (2004.81, 8.7), (2004.83, 11.5), (2004.85, 9.9), (2004.86, 9.5), (2004.88, 20.2),
    (2004.92, 22.2), (2004.96, 26.8), (2004.97, 29.5), (2004.99, 24.4),
    (2005.01, 26.8), (2005.03, 20.2), (2005.05, 22.2), (2005.07, 18.4), (2005.11, 32.4), (2005.10, 7.9), (2005.12, 8.7),
    (2005.14, 11.5), (2005.16, 13.9), (2005.18, 9.5), (2005.20, 12.6), (2005.21, 8.2), (2005.23, 13.9), (2005.25, 9.5),
    (2005.27, 10.5), (2005.29, 11.5), (2005.31, 9.5), (2005.32, 13.9), (2005.34, 11.5), (2005.36, 15.3), (2005.38, 5.4),
    (2005.40, 4.7), (2005.42, 6.5), (2005.44, 4.5), (2005.45, 5.4), (2005.47, 6.0), (2005.49, 3.7), (2005.51, 4.9),
    (2005.53, 5.4), (2005.55, 4.1), (2005.56, 6.5), (2005.58, 5.4), (2005.60, 9.5), (2005.62, 4.9), (2005.64, 5.4),
    (2005.66, 8.7), (2005.68, 6.5), (2005.69, 3.4), (2005.71, 7.9), (2005.73, 7.9), (2005.75, 11.5), (2005.77, 13.9),
    (2005.79, 12.6), (2005.82, 6.2), (2005.84, 16.8), (2005.86, 18.4), (2005.88, 22.2), (2005.90, 24.4), (2005.92, 22.2),
    (2005.93, 26.8), (2005.95, 20.2), (2005.97, 29.5), (2005.99, 24.4),
    (2006.01, 26.8), (2006.03, 22.2), (2006.04, 20.2), (2006.08, 16.8), (2006.16, 13.9), (2006.17, 12.6), (2006.19, 11.5),
    (2006.21, 8.7), (2006.23, 10.5), (2006.25, 13.9), (2006.27, 12.0), (2006.28, 11.5), (2006.30, 13.9), (2006.32, 9.5),
    (2006.34, 5.4), (2006.36, 7.9), (2006.38, 8.7), (2006.39, 6.5), (2006.41, 5.4), (2006.42, 2.3), (2006.43, 4.5),
    (2006.45, 6.5), (2006.47, 5.4), (2006.49, 7.9), (2006.51, 9.5), (2006.52, 6.5), (2006.54, 7.2), (2006.56, 11.5),
    (2006.51, 3.2), (2006.57, 11.5), (2006.60, 6.0), (2006.62, 4.5), (2006.63, 9.5), (2006.65, 5.4), (2006.67, 11.5),
    (2006.69, 8.7), (2006.71, 11.5), (2006.73, 9.5), (2006.75, 4.9), (2006.76, 4.5), (2006.78, 7.9), (2006.82, 25.4),
    (2006.84, 20.2), (2006.86, 18.4), (2006.87, 22.2), (2006.91, 16.8), (2006.93, 22.2), (2006.95, 10.5), (2006.99, 13.9),
    (2007.02, 25.4), (2007.06, 16.8), (2007.10, 13.9), (2007.13, 16.8), (2007.17, 11.5), (2007.19, 4.5), (2007.19, 3.4),
    (2007.20, 11.5), (2007.22, 9.5), (2007.24, 5.4), (2007.26, 13.9), (2007.28, 20.2), (2007.28, 33.6), (2007.29, 16.8),
    (2007.31, 20.2), (2007.33, 23.5), (2007.35, 24.4), (2007.37, 6.5), (2007.39, 9.5), (2007.42, 13.9), (2007.44, 10.5),
    (2007.48, 9.5), (2007.50, 11.5), (2007.54, 6.5), (2007.55, 6.0), (2007.57, 13.9), (2007.59, 12.6), (2007.61, 11.5),
    (2007.63, 13.9), (2007.67, 4.1), (2007.68, 9.5), (2007.72, 2.2), (2007.74, 5.6), (2007.76, 1.6), (2007.76, 6.5),
    (2007.78, 7.9), (2007.80, 8.7), (2007.81, 11.5), (2007.85, 18.4), (2007.87, 20.2), (2007.89, 16.8), (2007.91, 24.4),
    (2007.93, 20.2), (2007.94, 29.5), (2007.96, 26.8), (2007.98, 22.2),
    (2008.00, 25.4), (2008.04, 20.2), (2008.06, 24.4), (2008.07, 16.8), (2008.09, 20.2), (2008.11, 16.8), (2008.13, 18.4),
    (2008.15, 13.9), (2008.17, 15.3), (2008.19, 13.9), (2008.20, 16.8), (2008.22, 15.3), (2008.24, 13.9), (2008.26, 16.8),
    (2008.28, 18.4), (2008.30, 24.4), (2008.32, 26.8), (2008.33, 20.2), (2008.13, 3.9), (2008.17, 6.5), (2008.20, 8.2),
    (2008.24, 7.9), (2008.39, 8.7), (2008.43, 11.5), (2008.45, 7.2), (2008.46, 6.5), (2008.48, 6.5), (2008.50, 7.9),
    (2008.52, 11.5), (2008.54, 9.5), (2008.56, 5.4), (2008.58, 3.4), (2008.59, 7.9), (2008.61, 6.5), (2008.63, 5.4),
    (2008.65, 4.5), (2008.67, 9.5), (2008.69, 4.1), (2008.69, 2.5), (2008.71, 5.4), (2008.72, 6.5), (2008.74, 8.7),
    (2008.78, 8.7), (2008.80, 15.3), (2008.83, 13.9), (2008.85, 10.5), (2008.87, 20.2), (2008.89, 24.4), (2008.91, 26.8),
    (2008.93, 22.2), (2008.95, 26.8), (2008.96, 23.5), (2008.98, 22.2),
    (2009.00, 18.4), (2009.02, 16.8), (2009.04, 20.2), (2009.06, 13.9), (2009.08, 16.8), (2009.11, 13.9), (2009.15, 12.6),
    (2009.17, 8.7), (2009.19, 9.5), (2009.21, 15.3), (2009.22, 18.4), (2009.24, 16.8), (2009.26, 13.9), (2009.28, 15.3),
    (2009.30, 13.9), (2009.32, 12.6), (2009.34, 11.5), (2009.35, 13.9), (2009.37, 12.0), (2009.39, 11.5), (2009.41, 10.5),
    (2009.43, 9.5), (2009.39, 7.9), (2009.43, 8.7), (2009.45, 5.4), (2009.47, 6.0), (2009.50, 3.7), (2009.52, 6.5),
    (2009.54, 7.2), (2009.56, 5.4), (2009.58, 7.9), (2009.60, 5.6), (2009.61, 4.9), (2009.63, 3.9), (2009.65, 3.6),
    (2009.67, 5.4), (2009.69, 7.9), (2009.71, 3.2), (2009.73, 6.5), (2009.74, 8.7), (2009.76, 7.9), (2009.78, 9.5),
    (2009.80, 11.5), (2009.82, 7.2), (2009.84, 9.5), (2009.86, 13.9), (2009.87, 24.4), (2009.89, 20.2), (2009.91, 9.5),
    (2010.00, 26.8), (2010.02, 24.4), (2010.04, 16.8), (2010.06, 12.6), (2010.10, 13.9), (2010.13, 8.7), (2010.17, 11.5),
    (2010.21, 13.9), (2010.23, 11.5), (2010.24, 18.4), (2010.26, 20.2), (2010.28, 16.8), (2010.30, 13.9), (2010.32, 15.3),
    (2010.34, 12.6), (2010.36, 11.5), (2010.37, 9.5), (2010.41, 18.4), (2010.43, 13.9), (2010.45, 9.5), (2010.47, 13.9),
    (2010.49, 6.0), (2010.50, 7.2), (2010.52, 6.5), (2010.54, 9.5), (2010.56, 11.5), (2010.58, 13.9), (2010.62, 9.5),
    (2010.63, 12.6), (2010.65, 13.9), (2010.67, 4.9), (2010.69, 9.5), (2010.71, 13.9), (2010.75, 9.5), (2010.78, 9.5),
    (2010.86, 22.2), (2010.88, 18.4), (2010.88, 6.0), (2010.95, 20.2),
    (2011.02, 29.5), (2011.08, 13.9), (2011.10, 16.8), (2011.12, 11.5), (2011.14, 15.3), (2011.15, 7.9), (2011.17, 6.5),
    (2011.19, 9.5), (2011.21, 13.9), (2011.23, 11.5), (2011.25, 7.2), (2011.27, 13.9), (2011.28, 20.2), (2011.30, 16.8),
    (2011.32, 20.2), (2011.34, 13.9), (2011.36, 9.5), (2011.38, 11.5), (2011.40, 7.9), (2011.41, 13.9), (2011.43, 9.5),
    (2011.45, 7.2), (2011.47, 5.4), (2011.49, 13.9), (2011.51, 9.5), (2011.53, 7.9), (2011.56, 6.5), (2011.58, 5.4),
    (2011.60, 4.5), (2011.62, 4.9), (2011.64, 6.5), (2011.65, 9.5), (2011.67, 7.9), (2011.69, 9.5), (2011.71, 9.5),
    (2011.73, 8.7), (2011.75, 6.5), (2011.77, 10.5), (2011.78, 11.5), (2011.80, 12.6), (2011.82, 13.9), (2011.84, 9.5),
    (2011.86, 7.2), (2011.91, 24.4), (2011.93, 22.2), (2011.95, 18.4), (2011.97, 20.2), (2011.99, 20.2),
    (2012.03, 24.4), (2012.04, 21.0), (2012.06, 13.9), (2012.10, 13.9), (2012.14, 11.5), (2012.17, 9.5), (2012.21, 8.7),
    (2012.23, 10.5), (2012.25, 8.7), (2012.27, 16.8),
]

modis_chlor_a = [
    (2002.54, 8.1), (2002.57, 6.8), (2002.56, 4.7), (2002.61, 4.9), (2002.62, 4.7), (2002.63, 5.4), (2002.65, 4.9),
    (2002.67, 5.4), (2002.69, 4.7), (2002.68, 4.2), (2002.70, 3.7), (2002.72, 4.9), (2002.74, 4.2), (2002.96, 4.4),
    (2003.03, 3.9), (2003.12, 3.9), (2003.14, 4.2), (2003.20, 4.4), (2003.20, 3.5), (2003.27, 9.4), (2003.33, 12.4),
    (2003.36, 13.1), (2003.41, 5.1), (2003.46, 6.1), (2003.47, 5.4), (2003.53, 7.1), (2003.54, 4.7), (2003.59, 4.4),
    (2003.61, 4.7), (2003.62, 4.2), (2003.64, 4.7), (2003.66, 4.2), (2003.69, 3.9), (2003.68, 3.2), (2003.71, 5.1),
    (2003.73, 4.4), (2003.75, 5.4), (2003.79, 4.7), (2003.80, 6.5), (2003.81, 5.4), (2003.82, 5.1), (2003.83, 4.4),
    (2003.85, 4.7), (2003.87, 4.2), (2003.90, 4.9), (2003.92, 5.4), (2003.93, 5.1),
    (2004.16, 3.5), (2004.31, 12.0), (2004.37, 6.5), (2004.41, 7.8), (2004.43, 6.8), (2004.45, 5.4), (2004.51, 6.1),
    (2004.65, 3.7), (2004.67, 3.7), (2004.68, 4.0), (2004.69, 5.1),
    (2005.28, 4.4), (2005.30, 5.9), (2005.37, 4.4), (2005.39, 7.1), (2005.40, 6.8), (2005.44, 4.2), (2005.45, 5.9),
    (2005.46, 5.4), (2005.47, 5.7), (2005.54, 10.3), (2005.54, 7.8), (2005.54, 6.5), (2005.55, 5.4), (2005.58, 4.0),
    (2005.62, 5.1), (2005.63, 4.4), (2005.66, 3.9), (2005.68, 3.7), (2005.69, 3.9), (2005.71, 2.9), (2005.73, 4.2),
    (2005.78, 3.2), (2005.79, 5.1), (2005.82, 3.1), (2005.85, 4.9), (2005.87, 3.4),
    (2006.29, 5.1), (2006.33, 3.9), (2006.39, 6.1), (2006.42, 6.5), (2006.44, 4.7), (2006.45, 5.9), (2006.46, 6.5),
    (2006.49, 12.4), (2006.51, 9.4), (2006.52, 11.3), (2006.54, 8.5), (2006.52, 7.1), (2006.54, 6.8), (2006.55, 6.5),
    (2006.56, 5.9), (2006.57, 5.4), (2006.69, 4.2),
    (2007.19, 4.4), (2007.19, 3.7), (2007.20, 3.5), (2007.26, 37.9), (2007.27, 18.0), (2007.29, 21.7), (2007.31, 20.9),
    (2007.33, 19.8), (2007.39, 7.8), (2007.40, 6.5), (2007.54, 5.9), (2007.55, 5.4), (2007.58, 13.6), (2007.60, 6.5),
    (2007.65, 5.4), (2007.65, 4.2), (2007.65, 3.1), (2007.72, 3.2), (2007.76, 3.7), (2007.78, 4.4), (2007.80, 4.0),
    (2008.13, 3.5), (2008.13, 2.9), (2008.27, 5.1), (2008.35, 17.3), (2008.38, 13.6), (2008.46, 5.4), (2008.50, 5.9),
    (2008.51, 4.9), (2008.53, 4.4), (2008.55, 4.4), (2008.58, 4.0), (2008.72, 4.2), (2008.72, 4.7), (2008.73, 4.9),
    (2008.74, 4.0),
    (2009.01, 7.1), (2009.19, 5.2), (2009.22, 12.9), (2009.24, 12.0), (2009.30, 7.3), (2009.31, 6.8), (2009.41, 5.7),
    (2009.43, 7.1), (2009.45, 7.8), (2009.47, 12.4), (2009.47, 8.9), (2009.51, 4.2), (2009.56, 8.5), (2009.58, 8.2),
    (2009.61, 5.9), (2009.62, 5.4), (2009.66, 4.2), (2009.68, 3.9), (2009.71, 3.9), (2009.73, 3.5), (2009.79, 4.9),
    (2010.19, 5.1), (2010.30, 28.7), (2010.37, 9.4), (2010.39, 11.3), (2010.39, 13.6), (2010.40, 10.7), (2010.47, 9.4),
    (2010.49, 10.3), (2010.50, 8.9), (2010.52, 7.8), (2010.53, 7.1), (2010.55, 8.2), (2010.56, 17.3), (2010.59, 6.1),
    (2010.68, 6.8), (2010.77, 6.8), (2010.78, 5.9), (2010.79, 4.7),
    (2011.18, 4.7), (2011.24, 4.7), (2011.27, 6.1), (2011.33, 14.9), (2011.34, 12.4), (2011.35, 4.9), (2011.48, 11.3),
    (2011.50, 13.6), (2011.51, 18.7), (2011.54, 6.1), (2011.58, 5.9), (2011.62, 4.4), (2011.63, 3.9), (2011.70, 4.4),
    (2011.73, 3.9), (2011.74, 3.4), (2011.75, 4.4), (2011.81, 4.9), (2011.84, 3.9),
    (2012.40, 5.1), (2012.40, 4.0), (2012.45, 4.2), (2012.53, 4.4), (2012.53, 3.9), (2012.55, 4.7), (2012.55, 6.5),
    (2012.56, 5.4), (2012.56, 4.4), (2012.58, 6.1), (2012.60, 6.5), (2012.61, 12.9), (2012.62, 5.4), (2012.63, 5.9),
    (2012.65, 4.4),
]

panel_labels = ["MEGS 7.5 total_susp", "MEGS 8.0 total_susp", "MODIS TSM",
                "MEGS 7.5 algal_2", "MEGS 8.0 algal_2", "MODIS chlor_a"]
panel_data = [megs75_total_susp, megs80_total_susp, modis_tsm,
              megs75_algal_2, megs80_algal_2, modis_chlor_a]
y_tick_vals = [0.1, 1, 10, 100]
y_tick_text = ["0.1", "1.0", "10.0", "100.0"]
x_range = ["2002-01-01", "2013-01-01"]

# ---------------- layout constants (page pixels) ----------------
PAGE_W, PAGE_H = 1203, 945
OFF = 8                       # default body margin of the html page
W, H = PAGE_W - OFF, PAGE_H - OFF
PLOT_L, PLOT_R = 60, 1201     # plot area left/right in page pixels
ML = PLOT_L - OFF
MR = W - (PLOT_R - OFF)
PLOT_W = PLOT_R - PLOT_L
# panel (top, bottom) in page pixels
panel_px = [(23, 148), (165, 289), (304, 428), (507, 631), (648, 772), (786, 911)]
# small vertical nudges (px, up = positive) of the y tick labels, as in the original
label_nudge = {0.1: 5, 1: 0, 10: 0, 100: 0}
BLUE = "#1a73ff"
FONT = "Liberation Sans, Arial, sans-serif"
RED_FONT = "Lato, Open Sans, sans-serif"
minor_y = [m * 10.0 ** e for e in (-1, 0, 1) for m in range(2, 10)]


def to_date(t):
    y = int(t)
    start = dt.datetime(y, 1, 1)
    end = dt.datetime(y + 1, 1, 1)
    return start + (end - start) * (t - y)


def px_x(x):
    return (x - PLOT_L) / PLOT_W


def px_y(y):
    return 1 - (y - OFF) / H


fig = go.Figure()
layout = dict(
    width=W, height=H, margin=dict(l=ML, r=MR, t=0, b=0, autoexpand=False),
    paper_bgcolor="white", plot_bgcolor="white", showlegend=False,
    annotations=[],
)

for i, (pts, label) in enumerate(zip(panel_data, panel_labels)):
    k = "" if i == 0 else str(i + 1)
    fig.add_trace(go.Scatter(
        x=[to_date(t) for t, v in pts], y=[v for t, v in pts],
        mode="markers", xaxis="x" + k, yaxis="y" + k, hoverinfo="skip",
        marker=dict(symbol="x", size=5.5, color=BLUE, line=dict(width=0)),
    ))
    top, bot = panel_px[i]
    layout["xaxis" + k] = dict(
        type="date", domain=[0, 1], anchor="y" + k, range=x_range, automargin=False,
        tick0="2002-01-01", dtick="M12", tickformat="%Y", ticklabelmode="period",
        showticklabels=i in (2, 5),
        tickfont=dict(family=FONT, size=16, color="black", weight="bold"),
        ticks="inside", ticklen=5, tickcolor="#777",
        showgrid=True, gridcolor="#b9b9b9", gridwidth=1, griddash="dot",
        showline=True, linecolor="#6b6b6b", linewidth=1, mirror="allticks",
        minor=dict(dtick="M1", ticks="inside", ticklen=3, tickcolor="#8a8a8a", showgrid=False),
        zeroline=False, fixedrange=True,
    )
    layout["yaxis" + k] = dict(
        type="log", domain=[px_y(bot), px_y(top)], anchor="x" + k, range=[-1, 2], automargin=False,
        tickmode="array", tickvals=y_tick_vals, showticklabels=False,
        ticks="inside", ticklen=6, tickcolor="#777",
        showgrid=True, gridcolor="#d7d7d7", gridwidth=3,
        showline=True, linecolor="#6b6b6b", linewidth=1, mirror="allticks",
        minor=dict(tickmode="array", tickvals=minor_y, ticks="inside", ticklen=4,
                   tickcolor="#8a8a8a", showgrid=False),
        zeroline=False, fixedrange=True,
    )
    # y tick labels (placed at the axis, with the original's small nudges)
    for val, txt in zip(y_tick_vals, y_tick_text):
        layout["annotations"].append(dict(
            text=txt, xref="x" + k + " domain", yref="y" + k + " domain",
            x=0, y=(math.log10(val) + 1) / 3, xanchor="right", yanchor="middle",
            xshift=-3, yshift=label_nudge[val], showarrow=False, borderpad=0,
            font=dict(family=FONT, size=18, color="black", weight="bold"),
        ))
    layout["annotations"].append(dict(
        text=label, xref="x" + k + " domain", yref="y" + k + " domain",
        x=0.016, y=0.1, xanchor="left", yanchor="middle", showarrow=False,
        font=dict(family=FONT, size=18, color="black", weight="bold"),
    ))

# red comment texts (page pixels of their centres)
for text, cx, cy in [("winter wind-induced resuspension", 824, 266),
                     ("spring blooms", 1063, 492),
                     ("winter \u201cblooms\u201d", 817, 758)]:
    layout["annotations"].append(dict(
        text=text, xref="paper", yref="paper", x=px_x(cx), y=px_y(cy),
        xanchor="center", yanchor="middle", showarrow=False,
        font=dict(family=RED_FONT, size=27.5, color="#ff0000", weight="bold"),
    ))

# red arrows: (tip_x, tip_y, tail_x, tail_y) in page pixels
arrows = [(704, 192, 712, 236), (809, 192, 817, 236), (909, 191, 917, 233),
          (745, 518, 767, 486), (840, 518, 862, 486), (943, 518, 965, 486),
          (706, 691, 714, 732), (813, 691, 819, 732), (911, 688, 918, 729)]
for tx, ty, sx, sy in arrows:
    layout["annotations"].append(dict(
        text="", xref="paper", yref="paper", x=px_x(tx), y=px_y(ty),
        ax=sx - tx, ay=sy - ty, showarrow=True, arrowhead=4, arrowsize=1.3,
        arrowwidth=3.5, arrowcolor="#ff0000", standoff=0,
    ))

fig.update_layout(**layout)
fig.write_html("out.html")
